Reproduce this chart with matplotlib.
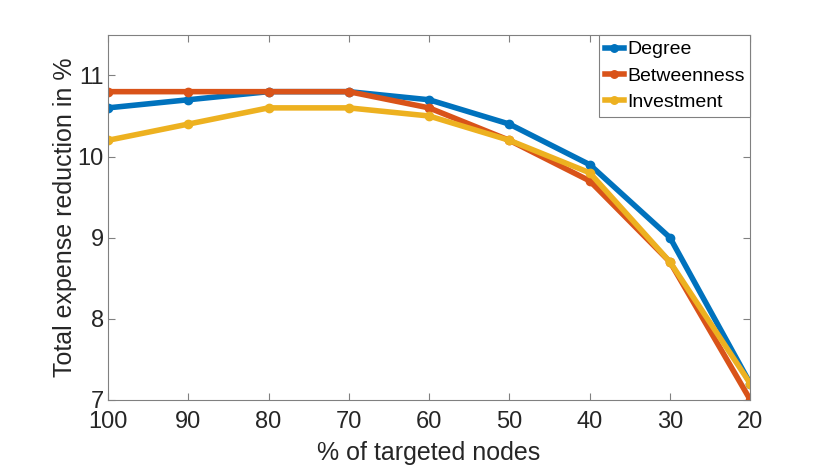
import matplotlib
matplotlib.use("Agg")
import matplotlib.pyplot as plt

plt.rcParams['font.family'] = ['Liberation Sans', 'DejaVu Sans']

targeted = [100, 90, 80, 70, 60, 50, 40, 30, 20]
degree = [10.6, 10.7, 10.8, 10.8, 10.7, 10.4, 9.9, 9.0, 7.2]
betweenness = [10.8, 10.8, 10.8, 10.8, 10.6, 10.2, 9.7, 8.7, 7.0]
investment = [10.2, 10.4, 10.6, 10.6, 10.5, 10.2, 9.8, 8.7, 7.2]

txt = "#262626"
fig = plt.figure(figsize=(8.3, 4.65), dpi=100)
ax = fig.add_axes([0.130, 0.140, 0.774, 0.785])

ax.plot(targeted, degree, c="#0072BD", lw=4, marker="o", ms=6, label="Degree")
ax.plot(targeted, betweenness, c="#D95319", lw=4, marker="o", ms=6, label="Betweenness")
ax.plot(targeted, investment, c="#EDB120", lw=4, marker="o", ms=6, label="Investment")

ax.set_xlim(100, 20)
ax.set_ylim(7, 11.5)
ax.set_xticks(targeted)
ax.set_yticks([7, 8, 9, 10, 11])
ax.tick_params(direction="in", labelsize=17, color="#808080", labelcolor=txt,
               length=5, top=True, right=True)
ax.tick_params(axis="x", pad=8)
ax.tick_params(axis="y", pad=3)
for s in ax.spines.values():
    s.set_color("#808080")
ax.set_xlabel("% of targeted nodes", fontsize=18, color=txt, labelpad=6)
ax.set_ylabel("Total expense reduction in %", fontsize=18, color=txt, labelpad=0)
leg = ax.legend(loc="upper right", fontsize=14, handlelength=1.0, handletextpad=0.15,
                borderaxespad=0.0, borderpad=0.3, labelspacing=0.45, fancybox=False,
                framealpha=1, markerscale=0.9)
leg.get_frame().set_edgecolor("#808080")
leg.get_frame().set_linewidth(0.8)
for t in leg.get_texts():
    t.set_color("black")

fig.savefig("out.png", dpi=100)
